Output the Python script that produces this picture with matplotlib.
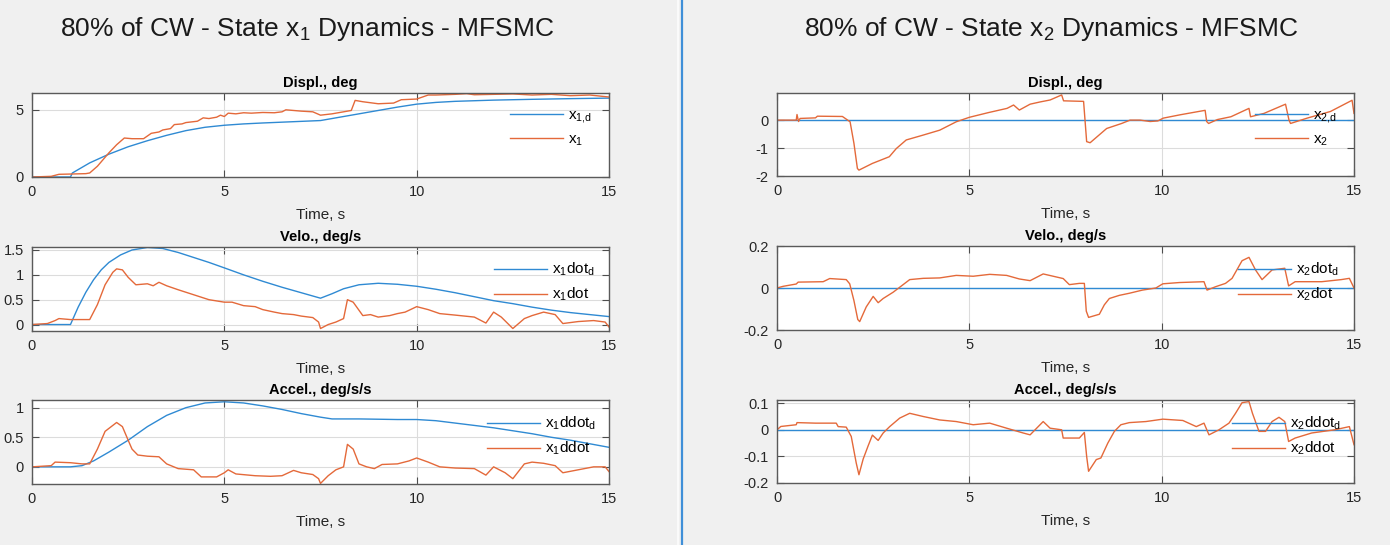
import numpy as np
import matplotlib.pyplot as plt
from matplotlib.lines import Line2D

plt.rcParams['font.family'] = ['Liberation Sans', 'DejaVu Sans']
plt.rcParams['mathtext.default'] = 'regular'

# ---------------- State x1 (left figure) ----------------
# displacement
t_x1d = [0, 1.0, 1.05, 1.5, 2.0, 2.5, 3.0, 3.5, 4.0, 4.5, 5.0, 5.5, 6.0, 6.5, 7.0, 7.5,
         8.0, 8.5, 9.0, 9.5, 10.0, 10.5, 11.0, 12.0, 13.0, 14.0, 15.0]
x1d = [0, 0, 0.3, 1.05, 1.7, 2.25, 2.7, 3.1, 3.45, 3.7, 3.85, 3.95, 4.02, 4.08, 4.14, 4.2,
       4.45, 4.7, 4.95, 5.2, 5.42, 5.55, 5.63, 5.72, 5.78, 5.83, 5.87]
t_x1 = [0, 0.5, 0.7, 1.0, 1.4, 1.5, 1.7, 1.85, 2.0, 2.2, 2.4, 2.6, 2.9, 3.1, 3.3, 3.4, 3.6,
        3.7, 3.9, 4.0, 4.3, 4.45, 4.6, 4.8, 4.9, 5.0, 5.1, 5.3, 5.5, 5.7, 6.0, 6.3, 6.5, 6.6,
        7.0, 7.3, 7.5, 7.8, 8.1, 8.3, 8.4, 8.6, 9.0, 9.4, 9.6, 10.0, 10.3, 10.5, 11.0, 11.3,
        11.5, 12.0, 12.5, 13.0, 13.5, 14.0, 14.5, 15.0]
x1 = [0, 0.05, 0.2, 0.22, 0.25, 0.3, 0.8, 1.3, 1.8, 2.4, 2.9, 2.85, 2.85, 3.25, 3.35, 3.5,
      3.6, 3.9, 3.95, 4.05, 4.15, 4.4, 4.35, 4.45, 4.6, 4.5, 4.75, 4.7, 4.78, 4.75, 4.8,
      4.78, 4.85, 5.0, 4.9, 4.85, 4.6, 4.7, 4.85, 4.95, 5.7, 5.6, 5.45, 5.5, 5.75, 5.8, 6.1,
      6.1, 6.15, 6.2, 6.12, 6.15, 6.18, 6.1, 6.15, 6.05, 6.1, 5.95]

# velocity
t_x1dotd = [0, 1.0, 1.2, 1.4, 1.6, 1.8, 2.0, 2.3, 2.6, 3.0, 3.4, 3.8, 4.2, 4.6, 5.0, 5.5,
            6.0, 6.5, 7.0, 7.5, 7.8, 8.1, 8.5, 9.0, 9.5, 10.0, 10.5, 11.0, 11.5, 12.0, 12.5,
            13.0, 13.5, 14.0, 14.5, 15.0]
x1dotd = [0, 0, 0.35, 0.65, 0.9, 1.1, 1.25, 1.4, 1.5, 1.55, 1.53, 1.45, 1.35, 1.25, 1.14,
          1.0, 0.87, 0.75, 0.64, 0.53, 0.62, 0.72, 0.8, 0.83, 0.81, 0.77, 0.71, 0.64, 0.56,
          0.48, 0.42, 0.35, 0.29, 0.24, 0.2, 0.16]
t_x1dot = [0, 0.4, 0.6, 0.7, 1.0, 1.3, 1.5, 1.7, 1.9, 2.1, 2.2, 2.35, 2.5, 2.7, 3.0, 3.15,
           3.3, 3.5, 3.8, 4.0, 4.2, 4.4, 4.6, 5.0, 5.2, 5.5, 5.8, 6.0, 6.3, 6.5, 6.8, 7.0,
           7.3, 7.45, 7.5, 7.7, 7.9, 8.1, 8.2, 8.35, 8.6, 8.8, 9.0, 9.3, 9.5, 9.7, 10.0, 10.3,
           10.6, 11.0, 11.5, 11.8, 12.0, 12.2, 12.5, 12.8, 13.0, 13.3, 13.6, 13.8, 14.2, 14.6,
           14.9, 15.0]
x1dot = [0, 0.02, 0.08, 0.12, 0.1, 0.1, 0.1, 0.4, 0.8, 1.05, 1.12, 1.1, 0.95, 0.8, 0.82,
         0.78, 0.85, 0.78, 0.7, 0.65, 0.6, 0.55, 0.5, 0.45, 0.45, 0.38, 0.36, 0.3, 0.25,
         0.22, 0.2, 0.17, 0.14, 0.05, -0.08, 0.0, 0.05, 0.12, 0.5, 0.45, 0.18, 0.2, 0.15,
         0.18, 0.22, 0.25, 0.36, 0.3, 0.22, 0.19, 0.15, 0.03, 0.25, 0.15, -0.08, 0.12, 0.18,
         0.25, 0.2, 0.02, 0.06, 0.08, 0.05, -0.05]

# acceleration
t_x1ddotd = [0, 1.0, 1.3, 1.6, 2.0, 2.5, 3.0, 3.5, 4.0, 4.5, 5.0, 5.5, 6.0, 6.5, 7.0, 7.5,
             7.8, 8.5, 9.5, 10.0, 10.5, 11.0, 11.5, 12.0, 12.5, 13.0, 13.5, 14.0, 14.5, 15.0]
x1ddotd = [0, 0, 0.02, 0.1, 0.25, 0.45, 0.68, 0.87, 1.0, 1.08, 1.1, 1.08, 1.03, 0.97, 0.9,
           0.84, 0.81, 0.81, 0.8, 0.8, 0.78, 0.74, 0.7, 0.66, 0.61, 0.56, 0.5, 0.45, 0.39,
           0.33]
t_x1ddot = [0, 0.5, 0.6, 1.0, 1.3, 1.5, 1.7, 1.9, 2.1, 2.2, 2.35, 2.5, 2.6, 2.75, 3.0, 3.3,
            3.5, 3.8, 4.2, 4.4, 4.8, 5.0, 5.1, 5.3, 5.8, 6.2, 6.5, 6.8, 7.0, 7.3, 7.45, 7.5,
            7.7, 7.9, 8.1, 8.2, 8.35, 8.5, 8.7, 8.9, 9.1, 9.5, 9.8, 10.0, 10.3, 10.6, 11.0,
            11.5, 11.8, 12.0, 12.3, 12.5, 12.8, 13.0, 13.3, 13.6, 13.8, 14.2, 14.6, 14.9, 15.0]
x1ddot = [0, 0.02, 0.08, 0.07, 0.05, 0.05, 0.3, 0.6, 0.7, 0.75, 0.68, 0.45, 0.3, 0.2, 0.18,
          0.17, 0.05, -0.03, -0.05, -0.17, -0.17, -0.1, -0.05, -0.12, -0.15, -0.16, -0.15,
          -0.06, -0.1, -0.13, -0.2, -0.28, -0.15, -0.05, 0.0, 0.38, 0.3, 0.05, 0.0, -0.03,
          0.04, 0.05, 0.1, 0.15, 0.08, 0.0, -0.02, -0.03, -0.14, 0.0, -0.1, -0.2, 0.05, 0.08,
          0.06, 0.02, -0.1, -0.05, 0.0, 0.0, -0.08]

# ---------------- State x2 (right figure) ----------------
t_x2d = [0, 15]
x2d = [0, 0]
t_x2 = [0, 0.5, 0.52, 0.56, 0.6, 1.0, 1.05, 1.7, 1.9, 2.0, 2.09, 2.13, 2.48, 2.92, 3.1, 3.36,
        3.79, 4.23, 4.66, 5.0, 5.5, 5.98, 6.15, 6.3, 6.58, 6.84, 7.1, 7.4, 7.45, 7.97, 8.05,
        8.14, 8.57, 8.96, 9.18, 9.44, 9.7, 9.9, 10.04, 10.48, 11.13, 11.17, 11.22, 11.45,
        11.8, 12.27, 12.31, 12.66, 13.22, 13.31, 13.35, 13.78, 14.39, 14.95, 15.0]
x2 = [0, 0, 0.2, -0.05, 0.06, 0.08, 0.14, 0.13, -0.06, -0.83, -1.73, -1.79, -1.55, -1.31,
      -1.02, -0.71, -0.54, -0.36, -0.06, 0.1, 0.27, 0.42, 0.54, 0.36, 0.57, 0.65, 0.72, 0.9,
      0.69, 0.67, -0.77, -0.81, -0.3, -0.12, 0.0, 0.0, -0.05, -0.03, 0.07, 0.19, 0.35, -0.05,
      -0.12, 0.02, 0.12, 0.42, 0.12, 0.24, 0.57, 0.0, -0.12, 0.07, 0.31, 0.71, 0.24]

t_x2dotd = [0, 15]
x2dotd = [0, 0]
t_x2dot = [0, 0.16, 0.5, 0.55, 1.2, 1.37, 1.8, 1.89, 2.0, 2.1, 2.15, 2.32, 2.5, 2.63, 2.76,
           3.02, 3.2, 3.45, 3.8, 4.23, 4.66, 5.1, 5.53, 5.97, 6.3, 6.58, 6.92, 7.44, 7.6, 7.86,
           7.99, 8.04, 8.1, 8.38, 8.51, 8.64, 8.9, 9.16, 9.5, 9.85, 10.03, 10.46, 11.1, 11.18,
           11.4, 11.66, 11.83, 12.09, 12.27, 12.44, 12.61, 12.87, 13.2, 13.3, 13.47, 14.16,
           14.67, 14.88, 15.0]
x2dot = [0, 0.008, 0.019, 0.028, 0.03, 0.045, 0.04, 0.02, -0.06, -0.15, -0.16, -0.09, -0.04,
         -0.07, -0.05, -0.02, 0.005, 0.04, 0.046, 0.048, 0.06, 0.056, 0.065, 0.06, 0.043,
         0.035, 0.067, 0.045, 0.016, 0.022, 0.022, -0.11, -0.14, -0.125, -0.08, -0.05,
         -0.035, -0.025, -0.01, 0.0, 0.02, 0.026, 0.03, -0.01, 0.006, 0.022, 0.046, 0.13,
         0.146, 0.086, 0.04, 0.086, 0.094, 0.01, 0.03, 0.03, 0.04, 0.046, 0.0]

t_x2ddotd = [0, 15]
x2ddotd = [0, 0]
t_x2ddot = [0, 0.1, 0.5, 0.52, 1.0, 1.54, 1.59, 1.8, 1.93, 2.06, 2.13, 2.24, 2.37, 2.48, 2.63,
            2.76, 2.93, 3.19, 3.45, 3.8, 4.23, 4.66, 5.1, 5.53, 5.97, 6.4, 6.58, 6.92, 7.1,
            7.4, 7.44, 7.86, 7.99, 8.05, 8.1, 8.3, 8.42, 8.6, 8.77, 8.94, 9.16, 9.59, 10.03,
            10.55, 10.9, 11.1, 11.23, 11.49, 11.75, 11.92, 12.09, 12.27, 12.36, 12.53, 12.7,
            12.87, 13.05, 13.2, 13.3, 13.47, 13.9, 14.5, 14.88, 15.0]
x2ddot = [0, 0.0125, 0.019, 0.027, 0.025, 0.025, 0.012, 0.01, -0.025, -0.125, -0.169, -0.11,
          -0.06, -0.02, -0.04, -0.012, 0.012, 0.044, 0.062, 0.05, 0.037, 0.031, 0.019, 0.025,
          0.006, -0.012, -0.019, 0.031, 0.006, 0.0, -0.031, -0.031, -0.01, -0.1, -0.156,
          -0.112, -0.106, -0.05, -0.006, 0.019, 0.027, 0.031, 0.04, 0.035, 0.012, 0.025,
          -0.019, 0.0, 0.025, 0.062, 0.102, 0.106, 0.062, -0.006, -0.006, 0.031, 0.047, 0.031,
          -0.044, -0.031, -0.012, 0.0, 0.012, -0.056]

BLUE = '#2f8ad3'
ORANGE = '#e4693a'
W, H = 1390, 545

fig = plt.figure(figsize=(W / 100, H / 100), dpi=100, facecolor='#f0f0f0')


def add_ax(l, t, r, b):
    return fig.add_axes([l / W, 1 - b / H, (r - l) / W, (b - t) / H])


def draw(ax, td, yd, ta, ya, ylim, yticks, ytl, title, labels, leg_xy):
    ax.plot(td, yd, color=BLUE, lw=1.0, label=labels[0])
    ax.plot(ta, ya, color=ORANGE, lw=1.0, label=labels[1])
    ax.set_xlim(0, 15)
    ax.set_ylim(*ylim)
    ax.set_xticks([0, 5, 10, 15])
    ax.set_yticks(yticks)
    ax.set_yticklabels(ytl)
    ax.grid(True, color='#dcdcdc', lw=0.8)
    ax.set_axisbelow(True)
    ax.tick_params(direction='in', length=5, width=0.8, top=True, right=True,
                   colors='#4d4d4d', labelcolor='#262626', labelsize=10.5, pad=6)
    for s in ax.spines.values():
        s.set_color('#5a5a5a')
        s.set_linewidth(1.0)
    ax.set_title(title, fontsize=10.5, fontweight='bold', pad=4)
    ax.set_xlabel('Time, s', fontsize=11, color='#262626', labelpad=6)
    ax.legend(loc='upper left', bbox_to_anchor=(leg_xy[0] / W, 1 - leg_xy[1] / H),
              bbox_transform=fig.transFigure, frameon=False, fontsize=11,
              handlelength=3.5, handletextpad=0.3, labelspacing=0.5, borderpad=0,
              borderaxespad=0)


# left figure
ax = add_ax(32, 93, 609, 177)
draw(ax, t_x1d, x1d, t_x1, x1, (0, 6.25), [0, 5], ['0', '5'], 'Displ., deg',
     ['$x_{1{,}d}$', '$x_1$'], (510, 108))
ax = add_ax(32, 247, 609, 331)
draw(ax, t_x1dotd, x1dotd, t_x1dot, x1dot, (-0.13, 1.56), [0, 0.5, 1, 1.5],
     ['0', '0.5', '1', '1.5'], 'Velo., deg/s', ['$x_1dot_d$', '$x_1dot$'], (494, 261))
ax = add_ax(32, 400, 609, 484)
draw(ax, t_x1ddotd, x1ddotd, t_x1ddot, x1ddot, (-0.29, 1.13), [0, 0.5, 1],
     ['0', '0.5', '1'], 'Accel., deg/s/s', ['$x_1ddot_d$', '$x_1ddot$'], (487, 415))

# right figure
ax = add_ax(777, 93, 1354, 176)
draw(ax, t_x2d, x2d, t_x2, x2, (-2, 0.97), [-2, -1, 0], ['-2', '-1', '0'], 'Displ., deg',
     ['$x_{2{,}d}$', '$x_2$'], (1255, 108))
ax = add_ax(777, 246, 1354, 330)
draw(ax, t_x2dotd, x2dotd, t_x2dot, x2dot, (-0.2, 0.2), [-0.2, 0, 0.2],
     ['-0.2', '0', '0.2'], 'Velo., deg/s', ['$x_2dot_d$', '$x_2dot$'], (1238, 261))
ax = add_ax(777, 400, 1354, 483)
draw(ax, t_x2ddotd, x2ddotd, t_x2ddot, x2ddot, (-0.2, 0.112), [-0.2, -0.1, 0, 0.1],
     ['-0.2', '-0.1', '0', '0.1'], 'Accel., deg/s/s', ['$x_2ddot_d$', '$x_2ddot$'],
     (1232, 415))

fig.text(307 / W, 1 - 29 / H, '80% of CW - State $x_1$ Dynamics - MFSMC', fontsize=19,
         ha='center', va='center', color='#1a1a1a')
fig.text(1051 / W, 1 - 29 / H, '80% of CW - State $x_2$ Dynamics - MFSMC', fontsize=19,
         ha='center', va='center', color='#1a1a1a')

# separator between the two figure windows
fig.add_artist(Line2D([682 / W, 682 / W], [0, 1], color='#3f8fd8', lw=1.6,
                      transform=fig.transFigure))
fig.add_artist(Line2D([678 / W, 678 / W], [0, 1], color='#fafafa', lw=1.5,
                      transform=fig.transFigure))

fig.savefig('out.png', dpi=100, facecolor=fig.get_facecolor())
